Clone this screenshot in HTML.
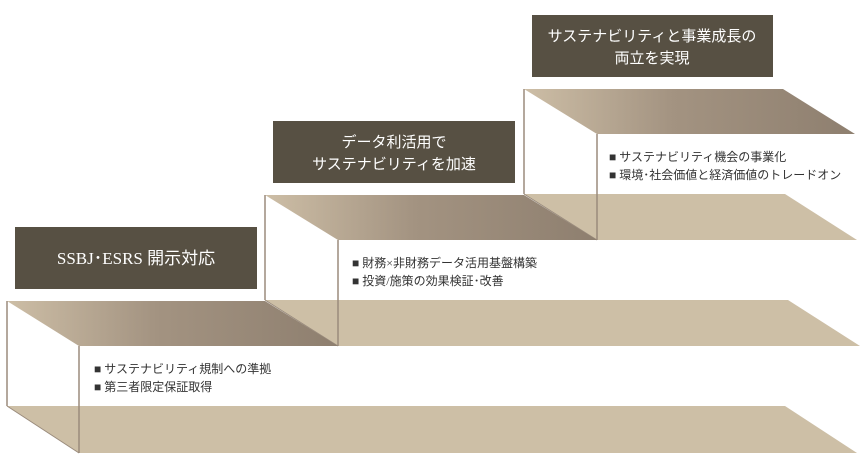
<!DOCTYPE html>
<html><head><meta charset="utf-8"><style>
html,body{margin:0;padding:0;background:#fff;}
svg{display:block;}
text{font-family:"Liberation Serif","Noto Sans CJK JP",sans-serif;}
</style></head><body>
<svg width="866" height="468" viewBox="0 0 866 468" xmlns="http://www.w3.org/2000/svg">
<defs>
<linearGradient id="g" x1="0" x2="1" y1="0" y2="0">
<stop offset="0" stop-color="#cdbea6"/>
<stop offset="0.45" stop-color="#a39381"/>
<stop offset="1" stop-color="#8e7f6f"/>
</linearGradient>
</defs>
<g>
<polygon points="524,194 785,194 857,240 597,240" fill="#cdbfa6"/>
<polygon points="524,89 783,89 855,134 597,134" fill="url(#g)"/>
<line x1="524" y1="89" x2="524" y2="194" stroke="#9a8b7c" stroke-width="1.5"/>
<line x1="524" y1="194" x2="597" y2="240" stroke="#9a8b7c" stroke-width="1"/>
<line x1="597" y1="134" x2="597" y2="240" stroke="#9a8b7c" stroke-width="1.5"/>
</g>
<g>
<polygon points="265,300 788,300 860,346 338,346" fill="#cdbfa6"/>
<polygon points="265,195 524,195 597,240 338,240" fill="url(#g)"/>
<line x1="265" y1="195" x2="265" y2="300" stroke="#9a8b7c" stroke-width="1.5"/>
<line x1="265" y1="300" x2="338" y2="346" stroke="#9a8b7c" stroke-width="1"/>
<line x1="338" y1="240" x2="338" y2="346" stroke="#9a8b7c" stroke-width="1.5"/>
</g>
<g>
<polygon points="7,406 785,406 857,453 79,453" fill="#cdbfa6"/>
<polygon points="7,301 265,301 338,346 79,346" fill="url(#g)"/>
<line x1="7" y1="301" x2="7" y2="406" stroke="#9a8b7c" stroke-width="1.5"/>
<line x1="7" y1="406" x2="79" y2="453" stroke="#9a8b7c" stroke-width="1"/>
<line x1="79" y1="346" x2="79" y2="453" stroke="#9a8b7c" stroke-width="1.5"/>
</g>
<rect x="532" y="15" width="241" height="62" fill="#575043"/>
<rect x="273" y="121" width="242" height="62" fill="#575043"/>
<rect x="15" y="227" width="242" height="62" fill="#575043"/>
<g fill="#fff" font-size="15" text-anchor="middle">
<text x="652" y="41">サステナビリティと事業成長の</text>
<text x="652" y="63">両立を実現</text>
<text x="394" y="147">データ利活用で</text>
<text x="394" y="169">サステナビリティを加速</text>
<text x="136" y="264" font-size="17">SSBJ･ESRS 開示対応</text>
</g>
<g fill="#333" font-size="12">
<text x="609" y="161">■ サステナビリティ機会の事業化</text>
<text x="609" y="179">■ 環境･社会価値と経済価値のトレードオン</text>
<text x="352" y="267">■ 財務×非財務データ活用基盤構築</text>
<text x="352" y="285">■ 投資/施策の効果検証･改善</text>
<text x="94" y="373">■ サステナビリティ規制への準拠</text>
<text x="94" y="391">■ 第三者限定保証取得</text>
</g>
</svg>
</body></html>
